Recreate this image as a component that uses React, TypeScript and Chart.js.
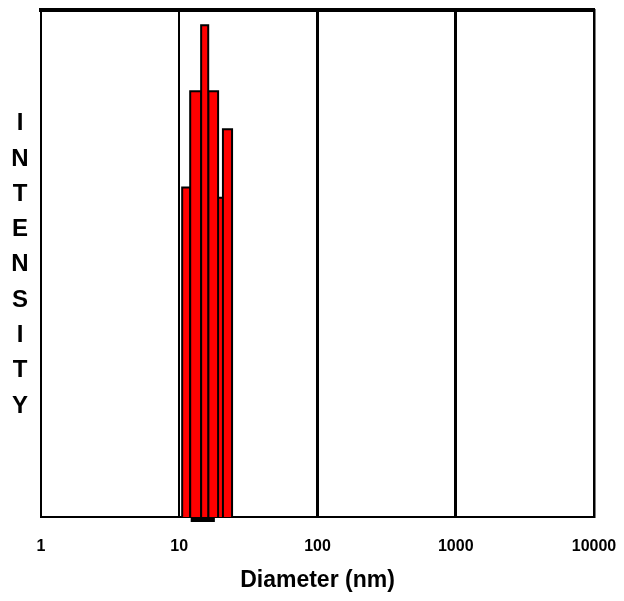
import React, { useEffect, useRef } from 'react';
import { Chart, registerables } from 'chart.js';

Chart.register(...registerables);

// ---- data ----
const tickValues = [1, 10, 100, 1000, 10000];
const tickLabels = ['1', '10', '100', '1000', '10000'];
const binLeft = [10.5, 12.0, 14.4, 16.2, 18.8, 20.7];
const binRight = [12.0, 14.4, 16.2, 19.1, 21.1, 24.1];
const intensity = [65, 84, 97, 84, 63, 76.5];
const baseStripRange = [12.1, 18.1];
const baseStripLevel = -0.55;
const yTitleLetters = ['I', 'N', 'T', 'E', 'N', 'S', 'I', 'T', 'Y'];
const xTitle = 'Diameter (nm)';

const FONT = '"Liberation Sans", Arial, sans-serif';

const letterTitlePlugin = {
  id: 'letterTitle',
  afterDraw(chart: any) {
    const { ctx, chartArea } = chart;
    const h = chartArea.bottom - chartArea.top;
    const start = chartArea.top + 0.224 * h;
    const end = chartArea.top + 0.781 * h;
    const step = (end - start) / (yTitleLetters.length - 1);
    ctx.save();
    ctx.fillStyle = '#000';
    ctx.font = `bold 24px ${FONT}`;
    ctx.textAlign = 'center';
    ctx.textBaseline = 'middle';
    yTitleLetters.forEach((ch, i) => {
      ctx.fillText(ch, chartArea.left - 21, start + i * step);
    });
    ctx.restore();
  },
};

export default function App() {
  const ref = useRef<HTMLCanvasElement>(null);

  useEffect(() => {
    if (!ref.current) return;
    const barSets = intensity.map((h, i) => ({
      type: 'scatter' as const,
      data: [
        { x: binLeft[i], y: 0 },
        { x: binLeft[i], y: h },
        { x: binRight[i], y: h },
        { x: binRight[i], y: 0 },
      ],
      showLine: true,
      fill: 'origin',
      backgroundColor: '#ff0000',
      borderColor: '#000000',
      borderWidth: 2,
      pointRadius: 0,
      tension: 0,
      order: -h,
      xAxisID: 'x',
      yAxisID: 'y',
    }));
    const strip = {
      type: 'scatter' as const,
      data: [
        { x: baseStripRange[0], y: baseStripLevel },
        { x: baseStripRange[1], y: baseStripLevel },
      ],
      showLine: true,
      fill: false,
      borderColor: '#000000',
      borderWidth: 4,
      pointRadius: 0,
      clip: false,
      order: -1000,
      xAxisID: 'x',
      yAxisID: 'y',
    };

    const chart = new Chart(ref.current, {
      type: 'scatter',
      data: { datasets: [...barSets, strip] as any },
      options: {
        animation: false,
        responsive: false,
        maintainAspectRatio: false,
        layout: { padding: { left: 41, right: 30, top: 10, bottom: 7 } },
        plugins: { legend: { display: false }, tooltip: { enabled: false } },
        scales: {
          x: {
            type: 'logarithmic',
            position: 'bottom',
            min: 1,
            max: 10000,
            afterBuildTicks: (axis: any) => {
              axis.ticks = tickValues.map((v) => ({ value: v }));
            },
            ticks: {
              autoSkip: false,
              maxRotation: 0,
              padding: 6,
              color: '#000',
              font: { family: FONT, size: 16, weight: 'bold' },
              callback: (_v: any, i: number) => tickLabels[i],
            },
            grid: {
              drawTicks: true,
              tickLength: 14,
              tickColor: 'rgba(0,0,0,0)',
              color: '#000',
              lineWidth: (c: any) => {
                const v = c.tick ? c.tick.value : 0;
                if (v === 10) return 2;
                if (v === 100 || v === 1000) return 3;
                return 0;
              },
            },
            border: { display: true, color: '#000', width: 2 },
            title: {
              display: true,
              text: xTitle,
              color: '#000',
              padding: { top: 4, bottom: 0 },
              font: { family: FONT, size: 23, weight: 'bold' },
            },
          },
          xTop: {
            type: 'linear',
            position: 'top',
            min: 0,
            max: 1,
            ticks: { display: false },
            grid: { display: false, drawTicks: false },
            border: { display: true, color: '#000', width: 4 },
          },
          y: {
            type: 'linear',
            position: 'left',
            min: 0,
            max: 100,
            ticks: { display: false },
            grid: { display: false, drawTicks: false },
            border: { display: true, color: '#000', width: 2 },
          },
          y2: {
            type: 'linear',
            position: 'right',
            min: 0,
            max: 1,
            ticks: { display: false },
            grid: { display: false, drawTicks: false },
            border: { display: true, color: '#000', width: 2.5 },
          },
        },
      } as any,
      plugins: [letterTitlePlugin],
    });
    return () => chart.destroy();
  }, []);

  return (
    <div style={{ position: 'fixed', left: 0, top: 0, width: 624, height: 601, background: '#fff' }}>
      <canvas ref={ref} width={624} height={601} style={{ width: 624, height: 601 }} />
    </div>
  );
}
